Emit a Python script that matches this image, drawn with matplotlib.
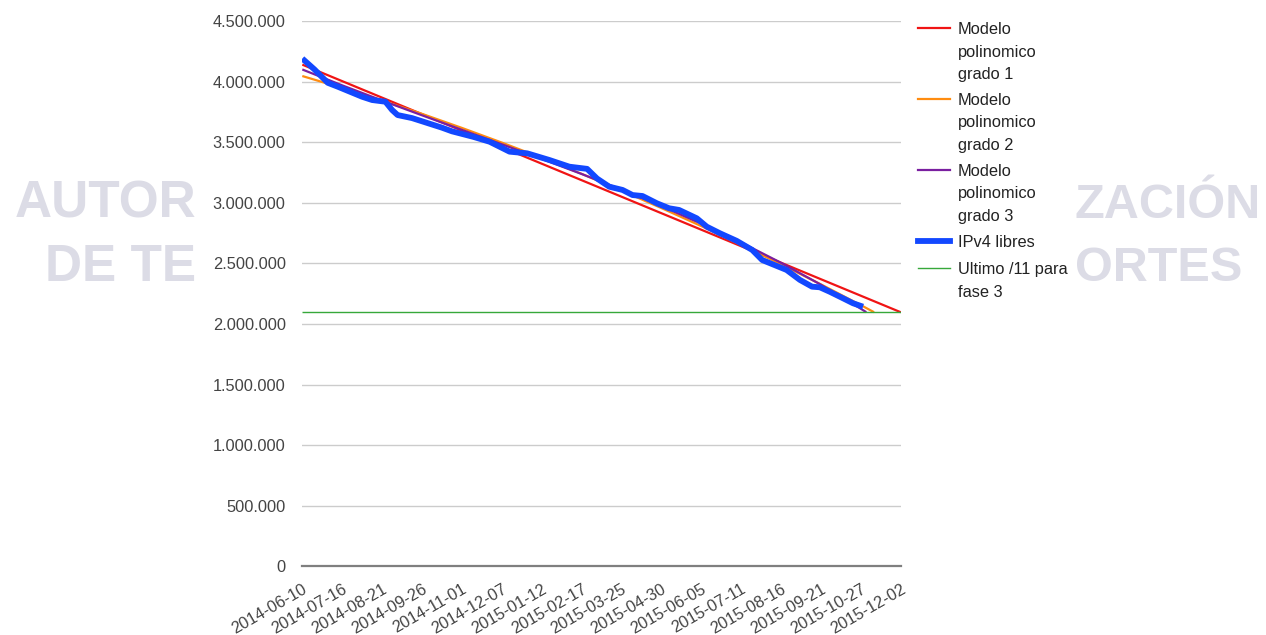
import matplotlib
matplotlib.use("Agg")
import matplotlib.pyplot as plt
import pandas as pd
from matplotlib.lines import Line2D

plt.rcParams['font.family'] = ['Liberation Sans', 'DejaVu Sans']

# ---------------- data ----------------
tick_dates = ["2014-06-10", "2014-07-16", "2014-08-21", "2014-09-26", "2014-11-01",
              "2014-12-07", "2015-01-12", "2015-02-17", "2015-03-25", "2015-04-30",
              "2015-06-05", "2015-07-11", "2015-08-16", "2015-09-21", "2015-10-27",
              "2015-12-02"]
y_ticks = [0, 500000, 1000000, 1500000, 2000000, 2500000, 3000000, 3500000, 4000000, 4500000]
y_tick_labels = ["0", "500.000", "1.000.000", "1.500.000", "2.000.000", "2.500.000",
                 "3.000.000", "3.500.000", "4.000.000", "4.500.000"]

ipv4_dates = ["2014-06-10", "2014-06-21", "2014-07-03", "2014-07-12", "2014-08-03",
              "2014-08-12", "2014-08-24", "2014-08-30", "2014-09-04", "2014-09-17",
              "2014-10-01", "2014-10-14", "2014-10-23", "2014-11-11", "2014-11-26",
              "2014-12-14", "2014-12-30", "2015-01-19", "2015-02-06", "2015-02-22",
              "2015-03-03", "2015-03-14", "2015-03-26", "2015-04-04", "2015-04-13",
              "2015-04-26", "2015-05-07", "2015-05-16", "2015-06-01", "2015-06-10",
              "2015-06-22", "2015-07-07", "2015-07-21", "2015-07-30", "2015-08-21",
              "2015-09-02", "2015-09-13", "2015-09-20", "2015-09-29", "2015-10-11",
              "2015-10-20", "2015-10-29"]
ipv4_free = [4190000, 4100000, 3990000, 3958000, 3875000,
             3848000, 3834000, 3766000, 3724000, 3699000,
             3658000, 3620000, 3590000, 3545000, 3504000,
             3422000, 3408000, 3353000, 3298000, 3280000,
             3200000, 3133000, 3106000, 3064000, 3056000,
             2996000, 2955000, 2941000, 2872000, 2803000,
             2748000, 2686000, 2611000, 2528000, 2446000,
             2364000, 2308000, 2303000, 2266000, 2212000,
             2171000, 2143000]

model1_dates = ["2014-06-10", "2015-12-02"]
model1_values = [4140000, 2097152]

model2_dates = tick_dates[:15] + ["2015-11-08"]
model2_values = [4046000, 3947000, 3843000, 3734000, 3618000, 3497000, 3371000, 3239000,
                 3101000, 2957000, 2808000, 2653000, 2493000, 2327000, 2156000, 2097152]

model3_dates = tick_dates[:15] + ["2015-11-01"]
model3_values = [4100000, 3969000, 3844000, 3722000, 3602000, 3483000, 3362000, 3238000,
                 3109000, 2973000, 2828000, 2673000, 2505000, 2324000, 2126000, 2097152]

phase3_dates = ["2014-06-10", "2015-12-02"]
phase3_values = [2097152, 2097152]

series_names = ["Modelo\npolinomico\ngrado 1", "Modelo\npolinomico\ngrado 2",
                "Modelo\npolinomico\ngrado 3", "IPv4 libres", "Ultimo /11 para\nfase 3"]
series_colors = ["#f01414", "#ff8c10", "#7a1fa0", "#1248ff", "#36a83a"]
series_widths = [1.6, 1.6, 1.6, 4.2, 1.0]

watermark_texts = ["AUTOR", "DE TE", "ZACIÓN", "ORTES"]

# ---------------- figure ----------------
W, H = 1266, 635
fig = plt.figure(figsize=(W / 100, H / 100), dpi=100)
fig.patch.set_facecolor("white")

def fx(px):
    return px / W

def fy(py):
    return 1 - py / H

# watermark fragments (behind chart)
wm_color = "#dcdce6"
wm_kw = dict(fontsize=37, fontweight="bold", color=wm_color, va="baseline", zorder=0)
fig.text(fx(196), fy(218), watermark_texts[0], ha="right", **wm_kw)
fig.text(fx(196), fy(281), watermark_texts[1], ha="right", **wm_kw)
fig.text(fx(1075), fy(218), watermark_texts[2], ha="left", fontsize=35, fontweight="bold",
         color=wm_color, va="baseline", zorder=0)
fig.text(fx(1075), fy(281), watermark_texts[3], ha="left", fontsize=35, fontweight="bold",
         color=wm_color, va="baseline", zorder=0)

left, right, top, bottom = 302.3, 900.7, 21.0, 566.4
ax = fig.add_axes([fx(left), fy(bottom), (right - left) / W, (bottom - top) / H])
ax.set_facecolor("none")

xs = [pd.to_datetime(model1_dates), pd.to_datetime(model2_dates), pd.to_datetime(model3_dates),
      pd.to_datetime(ipv4_dates), pd.to_datetime(phase3_dates)]
ys = [model1_values, model2_values, model3_values, ipv4_free, phase3_values]
for i in range(5):
    ax.plot(xs[i], ys[i], color=series_colors[i], lw=series_widths[i], zorder=3 + i,
            solid_joinstyle="round", solid_capstyle="butt")

ax.set_ylim(0, 4500000)
ax.set_xlim(pd.Timestamp(tick_dates[0]), pd.Timestamp(tick_dates[-1]))
ax.set_yticks(y_ticks)
ax.set_yticklabels(y_tick_labels)
ax.set_xticks(pd.to_datetime(tick_dates))
ax.set_xticklabels(tick_dates, rotation=30, ha="right", rotation_mode="anchor")
ax.yaxis.grid(True, color="#cccccc", lw=1.0)
ax.set_axisbelow(True)
for s in ax.spines.values():
    s.set_visible(False)
ax.tick_params(axis="both", length=0, labelsize=11.75, labelcolor="#444444")
ax.tick_params(axis="y", pad=12)
ax.tick_params(axis="x", pad=11)
ax.axhline(0, color="#7f7f7f", lw=1.6, zorder=2, clip_on=False)

# legend (manual, first-line aligned as in the reference)
legend_y = [28.3, 99.0, 170.0, 241.0, 268.3]
for name, col, lw, hy in zip(series_names, series_colors, series_widths, legend_y):
    fig.add_artist(Line2D([fx(917.5), fx(950)], [fy(hy), fy(hy)], color=col, lw=lw))
    fig.text(fx(957.5), fy(hy - 5.9), name, ha="left", va="top", fontsize=11.75,
             color="#222222", linespacing=1.61)

fig.savefig("out.png", dpi=100, facecolor="white")
